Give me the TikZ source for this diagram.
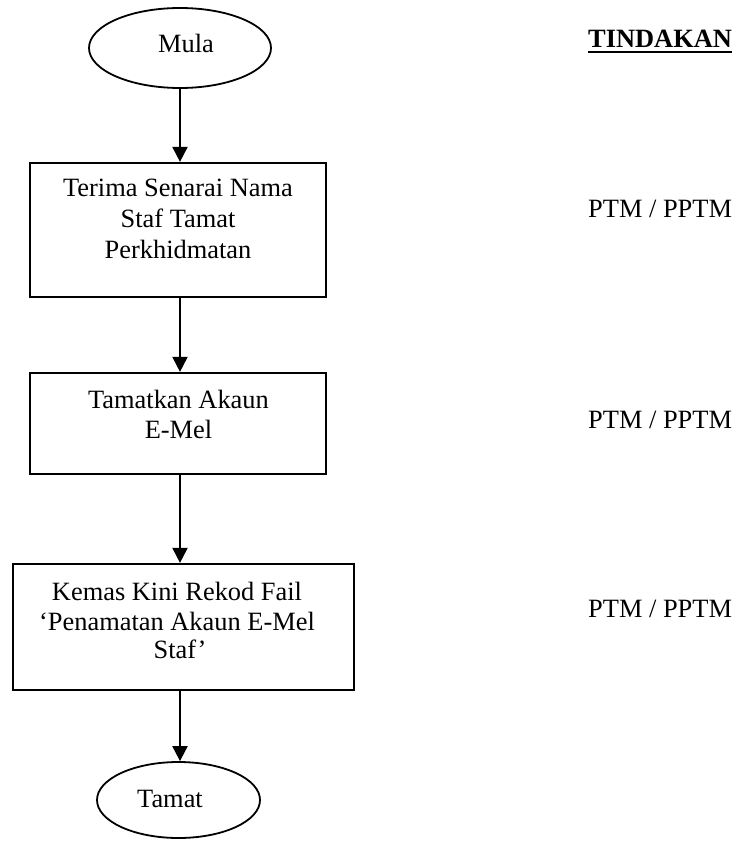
\documentclass[tikz,border=0pt]{standalone}
\usepackage{fontspec}
\setmainfont{Liberation Serif}
\usetikzlibrary{arrows.meta,shapes.geometric}
\begin{document}
\begin{tikzpicture}[x=1pt,y=-1pt,
  every node/.style={font=\fontsize{26.4}{30}\selectfont},
  box/.style={draw,line width=2.2pt,rectangle,inner sep=0pt},
  term/.style={draw,line width=1.8pt,ellipse,inner sep=0pt},
  txt/.style={anchor=base,align=center,inner sep=0pt},
  side/.style={anchor=base west,inner sep=0pt},
  arr/.style={line width=2pt,-{Triangle[width=15pt,length=15pt]}}]
\useasboundingbox (0,0) rectangle (737,842);
% shapes
\node[term,minimum width=182pt,minimum height=80pt] (mula) at (180,48) {};
\node[box,minimum width=296pt,minimum height=134pt] (b1) at (178,230) {};
\node[box,minimum width=296pt,minimum height=101pt] (b2) at (178,423.5) {};
\node[box,minimum width=341pt,minimum height=126pt] (b3) at (183.5,627) {};
\node[term,minimum width=163pt,minimum height=76pt] (tamat) at (178.5,800) {};
% texts
\node[txt] (tmula) at (186,53) {Mula};
\node[txt] (t1a) at (178,197) {Terima Senarai Nama};
\node[txt] (t1b) at (178,228) {Staf Tamat};
\node[txt] (t1c) at (178,258) {Perkhidmatan};
\node[txt] (t2a) at (178.5,408) {Tamatkan Akaun};
\node[txt] (t2b) at (178.5,438) {E-Mel};
\node[txt] (t3a) at (177,600) {Kemas Kini Rekod Fail};
\node[txt] (t3b) at (177,630) {`Penamatan Akaun E-Mel};
\node[txt] (t3c) at (180,658) {Staf'};
\node[txt] (ttamat) at (170,807) {Tamat};
% right column
\node[side] (tind) at (588,48) {\bfseries TINDAKAN};
\draw[line width=2pt] ([yshift=-4.5pt]tind.base west) -- ([yshift=-4.5pt]tind.base east);
\node[side] (a1) at (588,218) {PTM / PPTM};
\node[side] (a2) at (588,428) {PTM / PPTM};
\node[side] (a3) at (588,617) {PTM / PPTM};
% connectors
\draw[arr] (mula.south) -- (mula.south |- b1.north);
\draw[arr] (b1.south -| mula.south) -- (b2.north -| mula.south);
\draw[arr] (b2.south -| mula.south) -- (b3.north -| mula.south);
\draw[arr] (b3.south -| mula.south) -- (tamat.north -| mula.south);
\end{tikzpicture}
\end{document}
